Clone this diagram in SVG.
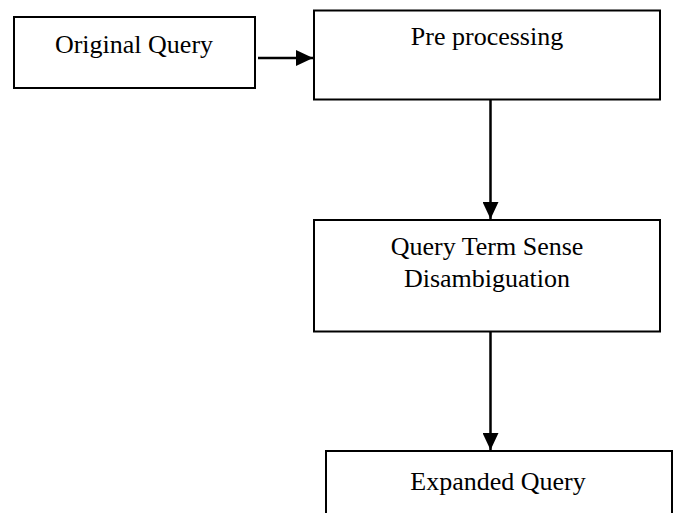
<svg xmlns="http://www.w3.org/2000/svg" width="679" height="513" viewBox="0 0 679 513">
<style>
.box{fill:#fff;stroke:#000;stroke-width:2}
.t{font-family:"Liberation Serif","Times New Roman",serif;font-size:26px;fill:#000;text-anchor:middle}
.c{stroke:#000;stroke-width:2.5;fill:none}
</style>
<defs>
<marker id="ah" markerUnits="userSpaceOnUse" markerWidth="17" markerHeight="16" refX="17" refY="8" orient="auto">
<path d="M0,0 L17,8 L0,16 Z" fill="#000"/>
</marker>
</defs>
<rect width="679" height="513" fill="#fff"/>
<g id="n1"><rect class="box" x="14" y="17" width="241" height="71"/><text class="t" x="134" y="53">Original Query</text></g>
<g id="n2"><rect class="box" x="314" y="10.5" width="346" height="89"/><text class="t" x="487" y="45">Pre processing</text></g>
<g id="n3"><rect class="box" x="314" y="220" width="346" height="111.5"/><text class="t" x="487" y="255">Query Term Sense</text><text class="t" x="487" y="287">Disambiguation</text></g>
<g id="n4"><rect class="box" x="326" y="451" width="346" height="80"/><text class="t" x="498" y="490">Expanded Query</text></g>
<g id="connectors">
<line class="c" x1="258" y1="58" x2="313" y2="58" marker-end="url(#ah)"/>
<line class="c" x1="490.5" y1="100" x2="490.5" y2="219" marker-end="url(#ah)"/>
<line class="c" x1="490.5" y1="332" x2="490.5" y2="450" marker-end="url(#ah)"/>
</g>
</svg>
